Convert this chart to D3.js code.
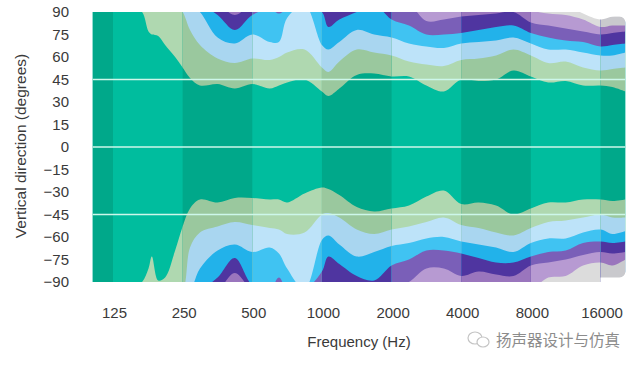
<!DOCTYPE html>
<html>

<head>
	<meta charset='utf-8'>
	<title>Vertical directivity</title>
	<script type='text/javascript' src='https://cdn.jsdelivr.net/npm/d3@7'></script>
	<style>
		html, body { margin: 0; padding: 0; background: #fff; }
		svg { display: block; }
	</style>
</head>

<body>
	<svg width='640' height='368'></svg>
	<script type='text/javascript'>

		const xTicks = [125, 250, 500, 1000, 2000, 4000, 8000, 16000]
		const yTicks = [90, 75, 60, 45, 30, 15, 0, -15, -30, -45, -60, -75, -90]
		const gridLines = [45, 0, -45]

		// alternating octave stripes
		const darkBands = [[102, 125], [250, 500], [1000, 2000], [4000, 8000], [16000, 20500]]

		const freqs = [102, 125, 149, 167, 178, 184, 196, 210, 232, 250, 269,
			297, 354, 420, 500, 595, 652, 707, 841, 1000, 1066,
			1189, 1414, 1682, 2000, 2378, 2828, 3364, 4000, 4757, 5657,
			6727, 8000, 9514, 11314, 13454, 16000, 18000, 20500]

		// contour edges in degrees, anything past +-90 is off the chart
		const topGreen = [95, 95, 95, 90, 77, 75, 74, 68, 60, 53, 46,
			41, 42, 39, 42, 39, 41, 43, 45, 37, 34,
			39, 48, 49, 47, 47, 41, 37, 45, 44, 45,
			51, 47, 43, 44, 41, 41, 40, 37]
		const topLightBlue = [95, 95, 95, 95, 95, 95, 95, 95, 95, 90, 78,
			68, 59, 56, 59, 58, 60, 63, 65, 53, 50,
			57, 65, 63, 61, 57, 55, 54, 58, 59, 61,
			65, 61, 56, 57, 53, 51, 52, 53]
		const topSky = [95, 95, 95, 95, 95, 95, 95, 95, 95, 95, 95,
			90, 73, 69, 75, 70, 70, 86, 95, 68, 65,
			70, 78, 75, 73, 69, 67, 66, 69, 70, 71,
			73, 69, 65, 65, 63, 61, 61, 63]
		const topIndigo = [95, 95, 95, 95, 95, 95, 95, 95, 95, 95, 95,
			95, 88, 78, 88, 92, 89, 92, 95, 90, 80,
			85, 90, 95, 85, 81, 75, 75, 76, 78, 80,
			81, 76, 73, 71, 70, 67, 68, 69]
		const topPurple = [95, 95, 95, 95, 95, 95, 95, 95, 95, 95, 95,
			95, 95, 88, 95, 95, 95, 95, 95, 95, 95,
			95, 95, 95, 95, 95, 84, 85, 87, 88, 89,
			90, 83, 81, 79, 77, 75, 76, 77]
		const topGrey = [95, 95, 95, 95, 95, 95, 95, 95, 95, 95, 95,
			95, 95, 95, 95, 95, 95, 95, 95, 95, 95,
			95, 95, 95, 95, 95, 95, 95, 95, 95, 95,
			95, 91, 89, 88, 85, 80, 81, 81]
		const topWhite = [95, 95, 95, 95, 95, 95, 95, 95, 95, 95, 95,
			95, 95, 95, 95, 95, 95, 95, 95, 95, 95,
			95, 95, 95, 95, 95, 95, 95, 95, 95, 95,
			95, 95, 95, 95, 89, 85, 87, 87]

		const botGreen = [-95, -95, -95, -90, -81, -73, -89, -87, -69, -53, -41,
			-35, -37, -34, -34, -35, -35, -37, -31, -27, -28,
			-32, -40, -43, -41, -39, -33, -29, -38, -37, -39,
			-45, -41, -37, -37, -35, -35, -36, -35]
		const botLightBlue = [-95, -95, -95, -95, -95, -95, -95, -95, -95, -95, -67,
			-57, -53, -50, -52, -54, -55, -58, -57, -45, -44,
			-47, -55, -58, -55, -53, -50, -47, -52, -54, -57,
			-59, -54, -50, -49, -47, -45, -47, -47]
		const botSky = [-95, -95, -95, -95, -95, -95, -95, -95, -95, -95, -95,
			-81, -69, -65, -70, -67, -71, -81, -95, -62, -59,
			-65, -73, -70, -66, -64, -61, -60, -63, -65, -67,
			-70, -64, -61, -61, -57, -55, -58, -56]
		const botIndigo = [-95, -95, -95, -95, -95, -95, -95, -95, -95, -95, -95,
			-95, -87, -74, -92, -95, -87, -95, -95, -83, -73,
			-78, -86, -89, -79, -75, -69, -69, -71, -74, -77,
			-77, -73, -70, -69, -64, -63, -64, -63]
		const botPurple = [-95, -95, -95, -95, -95, -95, -95, -95, -95, -95, -95,
			-95, -95, -84, -95, -95, -95, -95, -95, -95, -95,
			-95, -95, -95, -95, -90, -81, -81, -86, -83, -85,
			-86, -79, -77, -75, -72, -70, -71, -70]
		const botGrey = [-95, -95, -95, -95, -95, -95, -95, -95, -95, -95, -95,
			-95, -95, -95, -95, -95, -95, -95, -95, -95, -95,
			-95, -95, -95, -95, -95, -95, -95, -95, -95, -95,
			-95, -95, -87, -86, -79, -77, -79, -75]

		const topEdges = [topGreen, topLightBlue, topSky, topIndigo, topPurple, topGrey]
		const botEdges = [botGreen, botLightBlue, botSky, botIndigo, botPurple, botGrey]

		const lightColors = ['#00bd9e', '#afd8b0', '#bde3f9', '#3fc3f2', '#7a5fb8', '#b79ad2', '#dcdcdc']
		const darkColors = ['#00a88a', '#9ac89e', '#a9d6f0', '#22b2ea', '#4f35a0', '#9a74bd', '#c9c9cd']

		const xScale = d3.scaleLog().base(2).domain([125, 16000]).range([113, 600.5])
		const yScale = d3.scaleLinear().domain([90, -90]).range([12, 282])

		const svg = d3.select('svg')
		const defs = svg.append('defs')

		// plot shape: square on the left, rounded tail past 16000
		const plotClip = defs.append('clipPath').attr('id', 'plot')
		plotClip.append('rect')
			.attr('x', xScale(102)).attr('y', yScale(90))
			.attr('width', xScale(16000) - xScale(102)).attr('height', yScale(-90) - yScale(90))
		plotClip.append('rect')
			.attr('x', xScale(13454)).attr('y', yScale(87))
			.attr('width', xScale(20500) - xScale(13454)).attr('height', yScale(-87) - yScale(87))
			.attr('rx', 6)

		defs.append('clipPath').attr('id', 'dark')
			.selectAll('rect')
			.data(darkBands)
			.enter()
			.append('rect')
			.attr('x', d => xScale(d[0]))
			.attr('y', 0)
			.attr('width', d => xScale(d[1]) - xScale(d[0]))
			.attr('height', 368)

		// the source is a soft, slightly blurry picture
		defs.append('filter').attr('id', 'soft')
			.append('feGaussianBlur').attr('stdDeviation', 0.6)

		const edgeArea = (values, base) => d3.area()
			.x((d, i) => xScale(freqs[i]))
			.y0(yScale(base))
			.y1(d => yScale(d))
			.curve(d3.curveCatmullRom.alpha(0.5))(values)

		function drawField(g, colors) {
			g.append('rect')
				.attr('x', xScale(102) - 5).attr('y', yScale(90) - 5)
				.attr('width', xScale(20500) - xScale(102) + 10).attr('height', yScale(-90) - yScale(90) + 10)
				.attr('fill', colors[0])
			topEdges.forEach((edge, i) => {
				g.append('path').attr('d', edgeArea(edge, 100)).attr('fill', colors[i + 1])
			})
			botEdges.forEach((edge, i) => {
				g.append('path').attr('d', edgeArea(edge, -100)).attr('fill', colors[i + 1])
			})
		}

		const plot = svg.append('g').attr('clip-path', 'url(#plot)')
		const field = plot.append('g').attr('filter', 'url(#soft)')
		drawField(field.append('g'), lightColors)
		drawField(field.append('g').attr('clip-path', 'url(#dark)'), darkColors)

		// white notch along the top right
		field.append('path').attr('d', edgeArea(topWhite, 100)).attr('fill', '#fff')

		plot.selectAll('.grid')
			.data(gridLines)
			.enter()
			.append('line')
			.attr('class', 'grid')
			.attr('x1', xScale(102))
			.attr('x2', xScale(20500))
			.attr('y1', d => yScale(d))
			.attr('y2', d => yScale(d))
			.attr('stroke', '#cdf7ea')
			.attr('stroke-width', 1.4)

		const xAxis = d3.axisBottom(xScale).tickValues(xTicks).tickFormat(d => d).tickSize(0)
		const yAxis = d3.axisLeft(yScale).tickValues(yTicks).tickFormat(d3.format('d')).tickSize(0)

		const gx = svg.append('g').attr('transform', 'translate(1, 304)').call(xAxis)
		const gy = svg.append('g').attr('transform', 'translate(72, 0)').call(yAxis)
		gx.select('.domain').remove()
		gy.select('.domain').remove()

		svg.selectAll('.tick text')
			.attr('font-family', 'Liberation Sans')
			.attr('font-size', '15px')
			.attr('fill', '#3a3a3a')

		svg.append('text')
			.attr('x', 359).attr('y', 347)
			.attr('text-anchor', 'middle')
			.attr('font-family', 'Liberation Sans')
			.attr('font-size', '15px')
			.attr('fill', '#3a3a3a')
			.text('Frequency (Hz)')

		svg.append('text')
			.attr('transform', 'translate(26, 146) rotate(-90)')
			.attr('text-anchor', 'middle')
			.attr('font-family', 'Liberation Sans')
			.attr('font-size', '15.5px')
			.attr('fill', '#3a3a3a')
			.text('Vertical direction (degrees)')

		// watermark
		const mark = svg.append('g').attr('fill', '#fff').attr('stroke', '#c4c4c4').attr('stroke-width', 1.2)
		mark.append('ellipse').attr('cx', 475).attr('cy', 338).attr('rx', 7).attr('ry', 6)
		mark.append('ellipse').attr('cx', 483).attr('cy', 342).attr('rx', 6).attr('ry', 5)

		svg.append('text')
			.attr('x', 496).attr('y', 346)
			.attr('font-family', 'Noto Sans CJK SC')
			.attr('font-size', '15.5px')
			.attr('fill', '#8c8c8c')
			.text('扬声器设计与仿真')

	</script>
</body>

</html>
